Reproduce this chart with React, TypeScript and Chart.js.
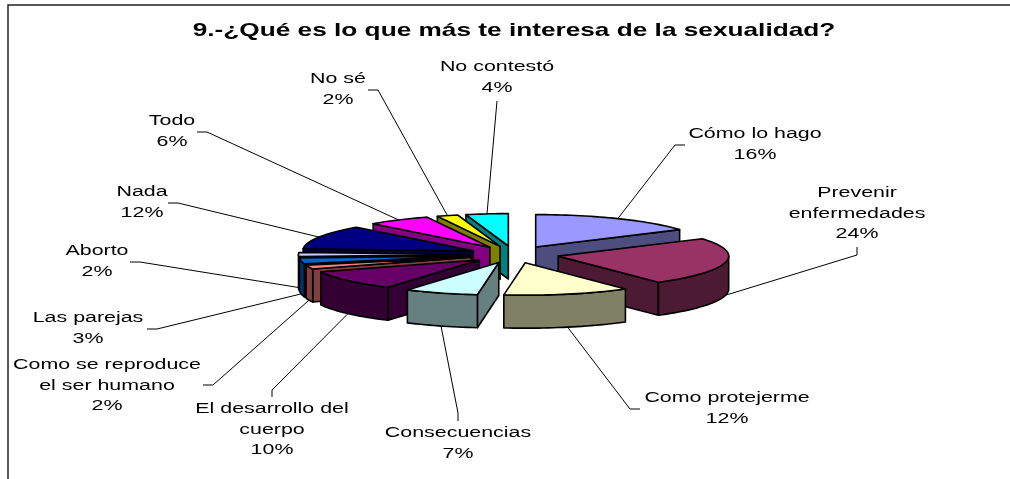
import React, { useEffect, useRef } from "react";
import { Chart, registerables } from "chart.js";

Chart.register(...registerables);

const titleText = "9.-¿Qué es lo que más te interesa de la sexualidad?";
const categories = [
  "Cómo lo hago",
  "Prevenir\nenfermedades",
  "Como protejerme",
  "Consecuencias",
  "El desarrollo del\ncuerpo",
  "Como se reproduce\nel ser humano",
  "Las parejas",
  "Aborto",
  "Nada",
  "Todo",
  "No sé",
  "No contestó",
];
const shares = [16, 24, 12, 7, 10, 2, 3, 2, 12, 6, 2, 4];
const topColors = ["#9999FF", "#993366", "#FFFFCC", "#CCFFFF", "#660066", "#FF8080", "#0066CC", "#CCCCFF", "#000080", "#FF00FF", "#FFFF00", "#00FFFF"];
const wallColors = ["#4D4D80", "#4D1A33", "#808066", "#668080", "#330033", "#804040", "#003366", "#666680", "#000040", "#800080", "#808000", "#008080"];

// Label layout: text centre of the first row, then the leader's elbow points.
const labelCenters = [
  [755, 134], [857, 193], [727, 398], [458, 433], [272, 409], [107, 365],
  [88, 318], [97, 251], [142, 192], [172, 121], [338, 79], [497, 67],
];
const leaderElbows = [
  [[675, 145], [685, 145]],
  [[857, 255], [857, 247]],
  [[630, 409], [640, 409]],
  [[458, 413], [458, 421]],
  [[272, 390], [272, 397]],
  [[213, 385], [203, 385]],
  [[157, 329], [147, 329]],
  [[140, 262], [130, 262]],
  [[178, 203], [168, 203]],
  [[207, 132], [197, 132]],
  [[378, 90], [368, 90]],
  [[497, 101]],
];

const SQUASH = 0.19;
const EXPLODE = 45;
const DEPTH = 33;
const FONT_FAMILY = '"Liberation Sans", Arial, sans-serif';
const LABEL_SIZE = 15.5;
const TEXT_STRETCH = 1.38;
const ROW = 20.5;
const TITLE_SIZE = 19;
const TITLE_Y = 31;

const pie3d = {
  id: "pie3d",
  beforeDatasetsDraw(chart: any) {
    const ctx = chart.ctx;
    const area = chart.chartArea;
    const arcs = chart.getDatasetMeta(0).data;
    const midY = (area.top + area.bottom) / 2;
    const geo = arcs.map((a: any, i: number) => {
      const mid = (a.startAngle + a.endAngle) / 2;
      const cx = a.x + EXPLODE * Math.cos(mid);
      const cy = midY + SQUASH * EXPLODE * Math.sin(mid);
      return { i, a, mid, cx, cy, r: a.outerRadius };
    });
    const rim = (g: any, t: number, dz = 0) => [g.cx + g.r * Math.cos(t), g.cy + SQUASH * g.r * Math.sin(t) + dz];
    const poly = (pts: number[][], fill: string) => {
      ctx.beginPath();
      pts.forEach((p, n) => (n ? ctx.lineTo(p[0], p[1]) : ctx.moveTo(p[0], p[1])));
      ctx.closePath();
      ctx.fillStyle = fill;
      ctx.fill();
      ctx.stroke();
    };
    const sample = (g: any, from: number, to: number, dz = 0) => {
      const n = Math.max(2, Math.ceil((to - from) / 0.03));
      const out: number[][] = [];
      for (let j = 0; j <= n; j++) out.push(rim(g, from + ((to - from) * j) / n, dz));
      return out;
    };
    const stretched = (text: string, x: number, y: number) => {
      ctx.save();
      ctx.translate(x, y);
      ctx.scale(TEXT_STRETCH, 1);
      ctx.fillText(text, 0, 0);
      ctx.restore();
    };

    ctx.save();
    ctx.lineWidth = 1.6;
    ctx.lineJoin = "round";
    ctx.strokeStyle = "#000";
    [...geo].sort((p: any, q: any) => Math.sin(p.mid) - Math.sin(q.mid)).forEach((g: any) => {
      const s = g.a.startAngle;
      const e = g.a.endAngle;
      const wall = wallColors[g.i];
      const face = (t: number) => {
        const p = rim(g, t);
        poly([[g.cx, g.cy], p, [p[0], p[1] + DEPTH], [g.cx, g.cy + DEPTH]], wall);
      };
      if (Math.cos(s) < 1e-6 && Math.sin(s - Math.PI / 2) > 0) face(s);
      if (Math.sin(e + Math.PI / 2) > 0) face(e);
      for (let k = -2; k <= 2; k++) {
        const lo = Math.max(s, k * 2 * Math.PI);
        const hi = Math.min(e, k * 2 * Math.PI + Math.PI);
        if (hi > lo) {
          const top = sample(g, lo, hi);
          const bot = sample(g, lo, hi, DEPTH).reverse();
          poly([...top, ...bot], wall);
        }
      }
      poly([[g.cx, g.cy], ...sample(g, s, e)], topColors[g.i]);
    });

    ctx.lineWidth = 1;
    ctx.fillStyle = "#000";
    ctx.textAlign = "center";
    ctx.textBaseline = "middle";
    ctx.font = `bold ${TITLE_SIZE}px ${FONT_FAMILY}`;
    stretched(titleText, (area.left + area.right) / 2, TITLE_Y);
    ctx.font = `${LABEL_SIZE}px ${FONT_FAMILY}`;
    geo.forEach((g: any) => {
      const start = rim(g, g.mid, Math.sin(g.mid) > -1e-6 ? DEPTH : 0);
      ctx.beginPath();
      ctx.moveTo(start[0], start[1]);
      leaderElbows[g.i].forEach((p) => ctx.lineTo(p[0], p[1]));
      ctx.stroke();
      const lines = [...categories[g.i].split("\n"), `${shares[g.i]}%`];
      lines.forEach((t, n) => stretched(t, labelCenters[g.i][0], labelCenters[g.i][1] + n * ROW));
    });
    ctx.restore();
    return false;
  },
};

const frame = {
  id: "frame",
  afterDraw(chart: any) {
    const ctx = chart.ctx;
    ctx.save();
    ctx.strokeStyle = "#222";
    ctx.lineWidth = 1.5;
    ctx.beginPath();
    ctx.moveTo(8, chart.height);
    ctx.lineTo(8, 5);
    ctx.lineTo(chart.width, 5);
    ctx.stroke();
    ctx.restore();
  },
};

export default function App() {
  const ref = useRef<HTMLCanvasElement>(null);
  useEffect(() => {
    const chart = new Chart(ref.current!, {
      type: "pie",
      data: {
        labels: categories,
        datasets: [{ data: shares, backgroundColor: topColors, borderWidth: 0 }],
      },
      options: {
        responsive: false,
        animation: false,
        events: [],
        layout: { padding: { left: 28, right: 10, top: 84, bottom: 54 } },
        plugins: {
          legend: { display: false },
          tooltip: { enabled: false },
          title: { display: false },
        },
      },
      plugins: [pie3d, frame],
    } as any);
    return () => chart.destroy();
  }, []);
  return (
    <div style={{ position: "absolute", left: 0, top: 0, width: 1010, height: 479, background: "#fff" }}>
      <canvas ref={ref} width={1010} height={479} style={{ display: "block" }} />
    </div>
  );
}
